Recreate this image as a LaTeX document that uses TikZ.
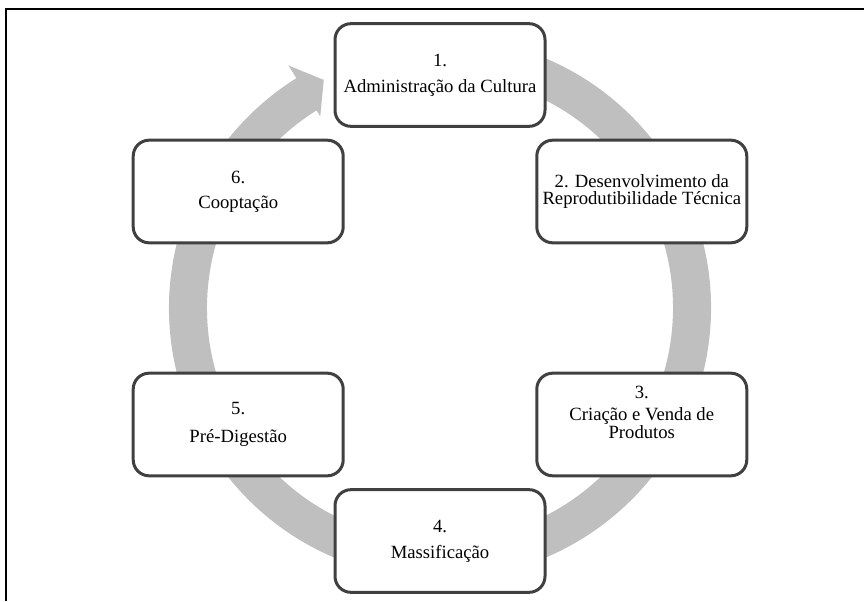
\documentclass[tikz,border=0pt]{standalone}
\usepackage{fontspec}
\setmainfont{Liberation Serif}
\usepackage{tikz}
\usetikzlibrary{calc}
\definecolor{ringgray}{RGB}{191,191,191}
\definecolor{boxedge}{RGB}{64,64,64}

\begin{document}
\begin{tikzpicture}[x=0.75pt,y=0.75pt,
  stage/.style={draw=boxedge,line width=2.25pt,rounded corners=12pt,fill=white,
    minimum width=157.5pt,minimum height=77pt,align=center,inner sep=2pt,
    font=\fontsize{14}{12.5}\selectfont}]
\useasboundingbox (0,0) rectangle (864,601);

%%%frame
\coordinate (fl) at (5.7,0);
\coordinate (tl) at (5.7,591.5);
\coordinate (tr) at (864,591.5);
\draw[line width=1.5pt] (fl) -- (tl) -- (tr);

%%%ring with arrow head
\coordinate (c) at (440,293);
\fill[ringgray] ($(c)+(80:271)$) arc[start angle=80,end angle=-238,radius=271]
  -- ($(c)+(-238:286)$) -- ($(c)+(-243:256)$) -- ($(c)+(-238:226)$)
  -- ($(c)+(-238:233)$) arc[start angle=-238,end angle=80,radius=233] -- cycle;

%%%stages
\node[stage] (s1) at ($(c)+(90:233)$) {1.\\[7pt]Administração da Cultura};
\node[stage] (s2) at ($(c)+(30:233)$) {2. Desenvolvimento da\\Reprodutibilidade Técnica};
\node[stage] (s3) at ($(c)+(-30:233)$) {3.\\[4pt]Criação e Venda de\\Produtos\rule[-18pt]{0pt}{0pt}};
\node[stage] (s4) at ($(c)+(-90:233)$) {4.\\[7pt]Massificação};
\node[stage] (s5) at ($(c)+(-150:233)$) {5.\\[9pt]Pré-Digestão};
\node[stage] (s6) at ($(c)+(150:233)$) {6.\\[6pt]Cooptação};

\end{tikzpicture}
\end{document}
